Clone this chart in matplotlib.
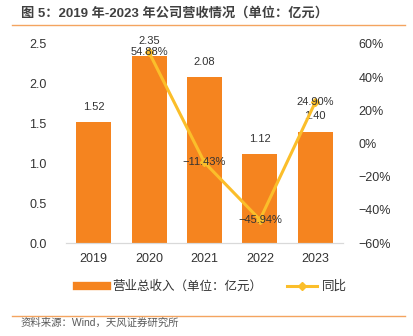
import matplotlib.pyplot as plt
from matplotlib.lines import Line2D
from matplotlib.ticker import FuncFormatter

plt.rcParams['font.family'] = ['Liberation Sans', 'Noto Sans CJK SC', 'DejaVu Sans']

years = ['2019', '2020', '2021', '2022', '2023']
revenue = [1.52, 2.35, 2.08, 1.12, 1.40]
yoy = [None, 54.88, -11.43, -45.94, 24.90]

bar_color = '#F5841F'
line_color = '#FBBE2A'
text_color = '#333333'

W, H = 414, 336
fig = plt.figure(figsize=(W / 100, H / 100), dpi=100)
ax = fig.add_axes([66 / W, (H - 243) / H, (343 - 66) / W, (243 - 44) / H])
ax2 = ax.twinx()

x = list(range(len(years)))
ax.bar(x, revenue, width=0.63, color=bar_color, zorder=2)
for i, v in enumerate(revenue):
    ax.annotate(f'{v:.2f}', (i, v), xytext=(0, 11), textcoords='offset points',
                ha='center', va='center', fontsize=8, color=text_color)

ax.set_xlim(-0.5, len(years) - 0.5)
ax.set_ylim(0, 2.5)
ax.set_yticks([0, 0.5, 1.0, 1.5, 2.0, 2.5])
ax.yaxis.set_major_formatter(FuncFormatter(lambda v, p: f'{v:.1f}'))
ax.set_xticks(x)
ax.set_xticklabels(years)

lx = [i for i, v in enumerate(yoy) if v is not None]
ly = [v for v in yoy if v is not None]
ax2.plot(lx, ly, color=line_color, lw=2.2, marker='D', ms=4, zorder=3)
for i, v in zip(lx, ly):
    s = f'{v:.2f}%'.replace('-', '\u2212')
    ax2.text(i, v, s, ha='center', va='center', fontsize=8, color=text_color, zorder=4)
ax2.set_ylim(-60, 60)
ax2.set_yticks(range(-60, 61, 20))
ax2.yaxis.set_major_formatter(FuncFormatter(lambda v, p: f'{v:.0f}%'.replace('-', '\u2212')))

for a in (ax, ax2):
    for s in ('top', 'left', 'right'):
        a.spines[s].set_visible(False)
    a.spines['bottom'].set_color('#D9D9D9')
    a.tick_params(length=0, labelsize=9, colors=text_color)
ax.tick_params(axis='y', pad=14)
ax2.tick_params(axis='y', pad=11)
ax.tick_params(axis='x', pad=7)

handles = [Line2D([], [], color=bar_color, lw=6),
           Line2D([], [], color=line_color, lw=2.2, marker='D', ms=4)]
labels = ['营业总收入（单位：亿元）', '同比']
fig.legend(handles, labels, loc='center', bbox_to_anchor=(212 / W, 1 - 287 / H),
           ncol=2, frameon=False, fontsize=9, handlelength=2.4, columnspacing=2.0,
           handletextpad=0.4, labelcolor=text_color)

fig.text(21 / W, 1 - 13 / H, '图 5：2019 年-2023 年公司营收情况（单位：亿元）',
         fontsize=9.5, fontweight='bold', color='#404040', va='center', ha='left')
fig.text(21 / W, 1 - 323 / H, '资料来源：Wind，天风证券研究所',
         fontsize=7.5, color='#595959', va='center', ha='left')
fig.add_artist(Line2D([12 / W, 405 / W], [1 - 25 / H, 1 - 25 / H], color='#F4A460', lw=1))
fig.add_artist(Line2D([12 / W, 405 / W], [1 - 316 / H, 1 - 316 / H], color='#F4A460', lw=1))

fig.savefig('out.png', dpi=100)
